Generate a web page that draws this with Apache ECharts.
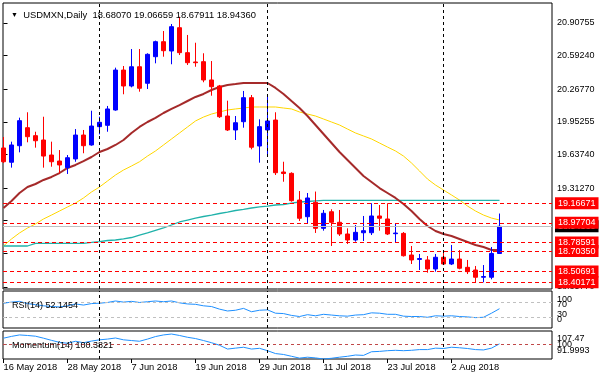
<!DOCTYPE html>
<html><head><meta charset="utf-8">
<script src="https://cdn.jsdelivr.net/npm/echarts@6/dist/echarts.min.js"></script>
<style>html,body{margin:0;padding:0;background:#fff}#c{width:600px;height:380px}</style>
</head><body><div id="c"></div>
<script>
const dates = [
 '2018-05-16','2018-05-17','2018-05-18','2018-05-21','2018-05-22','2018-05-23','2018-05-24','2018-05-25','2018-05-28','2018-05-29','2018-05-30','2018-05-31',
 '2018-06-01','2018-06-04','2018-06-05','2018-06-06','2018-06-07','2018-06-08','2018-06-11','2018-06-12','2018-06-13','2018-06-14','2018-06-15','2018-06-18','2018-06-19','2018-06-20','2018-06-21','2018-06-22','2018-06-25','2018-06-26','2018-06-27','2018-06-28','2018-06-29',
 '2018-07-02','2018-07-03','2018-07-04','2018-07-05','2018-07-06','2018-07-09','2018-07-10','2018-07-11','2018-07-12','2018-07-13','2018-07-16','2018-07-17','2018-07-18','2018-07-19','2018-07-20','2018-07-23','2018-07-24','2018-07-25','2018-07-26','2018-07-27','2018-07-30','2018-07-31',
 '2018-08-01','2018-08-02','2018-08-03','2018-08-06','2018-08-07','2018-08-08','2018-08-09','2018-08-10'];
const opens  = [19.700,19.562,19.722,19.896,19.819,19.777,19.632,19.574,19.510,19.594,19.825,19.729,19.906,19.919,20.067,20.453,20.299,20.485,20.325,20.582,20.727,20.637,20.862,20.621,20.531,20.534,20.357,20.299,20.009,19.874,19.954,20.186,19.719,19.874,19.970,19.468,19.455,19.197,19.036,19.175,18.924,19.084,18.982,18.869,18.811,18.881,18.881,19.043,19.014,18.872,18.875,18.666,18.623,18.618,18.531,18.644,18.579,18.627,18.547,18.521,18.451,18.451,18.68070];
const highs  = [19.806,19.761,19.993,20.045,19.857,20.002,19.761,19.680,19.632,19.883,19.874,20.060,20.002,20.106,20.476,20.492,20.656,20.656,20.615,20.737,20.830,20.898,20.968,20.792,20.717,20.615,20.540,20.309,20.157,20.009,20.251,20.212,19.977,20.202,20.045,19.567,19.465,19.284,19.265,19.279,19.101,19.108,19.101,18.924,18.956,19.043,19.166,19.149,19.166,18.966,18.888,18.753,18.676,18.656,18.676,18.708,18.763,18.714,18.618,18.560,18.569,18.743,19.06659];
const lows   = [19.555,19.510,19.658,19.755,19.703,19.510,19.519,19.455,19.449,19.567,19.649,19.722,19.832,19.857,20.060,20.219,20.286,20.244,20.270,20.518,20.582,20.509,20.598,20.502,20.485,20.335,20.205,19.990,19.864,19.777,19.896,19.687,19.558,19.632,19.439,19.374,19.181,18.995,18.972,18.879,18.901,18.753,18.850,18.772,18.795,18.801,18.859,18.901,18.859,18.789,18.651,18.579,18.521,18.495,18.505,18.569,18.569,18.528,18.482,18.402,18.402,18.431,18.67911];
const closes = [19.567,19.729,19.964,19.809,19.770,19.622,19.567,19.536,19.606,19.825,19.722,19.912,19.948,20.077,20.453,20.299,20.485,20.277,20.605,20.727,20.640,20.872,20.621,20.524,20.524,20.357,20.292,20.002,19.874,19.944,20.186,19.707,19.906,19.961,19.461,19.453,19.191,19.021,19.217,18.924,19.069,18.982,18.869,18.811,18.885,18.901,19.043,19.021,18.869,18.878,18.659,18.618,18.632,18.531,18.644,18.579,18.627,18.538,18.505,18.451,18.458,18.681,18.94360];
const maFast = [19.120,19.188,19.265,19.323,19.352,19.391,19.420,19.458,19.507,19.536,19.574,19.613,19.661,19.690,19.729,19.777,19.845,19.903,19.951,19.990,20.038,20.077,20.115,20.154,20.193,20.222,20.260,20.289,20.309,20.318,20.328,20.328,20.328,20.328,20.280,20.222,20.154,20.087,20.009,19.922,19.835,19.748,19.661,19.584,19.507,19.429,19.371,19.313,19.265,19.217,19.159,19.091,19.014,18.946,18.898,18.869,18.850,18.821,18.792,18.763,18.743,18.714,18.714];
const maMid = [18.753,18.821,18.879,18.927,18.966,19.014,19.052,19.091,19.130,19.168,19.217,19.275,19.323,19.381,19.439,19.487,19.526,19.567,19.622,19.671,19.729,19.787,19.845,19.903,19.961,19.999,20.028,20.048,20.067,20.077,20.086,20.096,20.096,20.096,20.096,20.086,20.077,20.048,20.028,20.009,19.980,19.951,19.922,19.883,19.845,19.816,19.787,19.748,19.709,19.671,19.622,19.555,19.478,19.400,19.342,19.294,19.246,19.197,19.139,19.091,19.052,19.023,19.004];
const maSlow = [18.753,18.753,18.753,18.753,18.779,18.779,18.779,18.779,18.779,18.779,18.779,18.787,18.796,18.806,18.811,18.821,18.835,18.859,18.879,18.903,18.927,18.956,18.985,19.004,19.023,19.038,19.052,19.067,19.081,19.096,19.106,19.120,19.130,19.139,19.149,19.154,19.168,19.178,19.183,19.188,19.193,19.193,19.193,19.193,19.193,19.193,19.193,19.193,19.193,19.193,19.193,19.193,19.193,19.193,19.193,19.193,19.193,19.193,19.193,19.193,19.193,19.193,19.193];
const rsi = [67,70,72,66,63,60,58,57,60,65,62,66,67,69,73,70,72,69,71,73,71,73,68,65,64,60,58,51,46,48,53,44,48,49,40,39,34,31,36,33,37,35,33,32,35,36,41,40,37,37,32,31,31,29,33,32,33,31,30,28,29,40,52.1454];
const momentum = [103.5,104.5,105.3,105.0,104.6,103.5,102.3,101.2,100.7,101.8,101.0,101.9,102.6,103.0,103.6,102.6,102.2,101.8,103.0,104.4,105.3,105.8,105.0,104.0,103.3,102.2,101.0,99.6,97.5,98.0,98.5,97.5,97.9,96.6,95.0,94.5,93.5,92.5,93.0,92.6,91.9993,92.4,93.0,93.5,94.2,94.0,96.0,96.2,96.6,96.8,96.6,96.8,97.2,97.2,98.0,97.8,98.5,98.2,97.8,97.2,97.0,98.0,100.3821];
const hLevels = [19.16671,18.97704,18.78591,18.70350,18.50691,18.40171];
const lastPrice = 18.94360;
const priceTicks = [20.90755,20.59240,20.26770,19.95255,19.63740,19.31270,18.99755,18.68240,18.35770];
const rsiMin = 0, rsiMax = 100;
const rsiLevels = [70,30];
const momMin = 91.9993, momMax = 107.47;
const momLevel = 100;
const dateTickIdx = [0,8,16,24,32,40,48,56];
const monthNames = ['Jan','Feb','Mar','Apr','May','Jun','Jul','Aug','Sep','Oct','Nov','Dec'];

const FONT = "'Liberation Sans',Arial,sans-serif";
const FS = 9;
const XMIN = -0.0625, XMAX = 68.5625;
const sepIdx = [];
for (let i = 1; i < dates.length; i++) if (dates[i].slice(5,7) !== dates[i-1].slice(5,7)) sepIdx.push(i);
function fmtDate(i){const p=dates[i].split('-');return (+p[2])+' '+monthNames[+p[1]-1]+' '+p[0];}
const sepLines = sepIdx.map(i=>({xAxis:i,lineStyle:{color:'#000',type:[3,3],width:1},label:{show:false}}));
const pts = arr => arr.map((v,i)=>[i,v]);
const last = dates.length-1;

const chart = echarts.init(document.getElementById('c'), null, {renderer:'canvas'});
const gridBase = {left:3,width:549,show:true,borderColor:'#000',borderWidth:1,backgroundColor:'#fff'};
const xBase = {type:'value',min:XMIN,max:XMAX,axisLine:{show:false},axisTick:{show:false},axisLabel:{show:false},splitLine:{show:false}};
const richL = {l:{fontFamily:FONT,fontSize:FS,color:'#000',lineHeight:5}};
const richM = {l:{fontFamily:FONT,fontSize:FS,color:'#000',lineHeight:6.4}};
chart.setOption({
 animation:false,
 backgroundColor:'#fff',
 textStyle:{fontFamily:FONT},
 title:[
  {text:'{t|▼}  USDMXN,Daily  '+[opens[last],highs[last],lows[last],closes[last]].map(v=>v.toFixed(5)).join(' '),left:6,top:6,
   textStyle:{fontFamily:FONT,fontSize:9.4,fontWeight:'normal',color:'#000',rich:{t:{fontSize:7,color:'#000'}}}},
  {text:'RSI(14) '+rsi[last].toFixed(4),left:7,top:296,textStyle:{fontFamily:FONT,fontSize:FS,fontWeight:'normal',color:'#000'}},
  {text:'Momentum(14) '+momentum[last].toFixed(4),left:7,top:336,textStyle:{fontFamily:FONT,fontSize:FS,fontWeight:'normal',color:'#000'}}
 ],
 grid:[Object.assign({top:3,height:286},gridBase),Object.assign({top:291,height:37},gridBase),Object.assign({top:331,height:28},gridBase)],
 xAxis:[
  Object.assign({gridIndex:0},xBase),
  Object.assign({gridIndex:1},xBase),
  Object.assign({},xBase,{gridIndex:2,
    axisTick:{show:true,customValues:dateTickIdx,length:4,inside:false,lineStyle:{color:'#000'}},
    axisLabel:{show:true,customValues:dateTickIdx,formatter:v=>fmtDate(Math.round(v)),align:'left',margin:4,color:'#000',fontFamily:FONT,fontSize:9.3}})
 ],
 yAxis:[
  {gridIndex:0,type:'value',position:'right',min:18.3375,max:21.1008,scale:true,splitLine:{show:false},axisLine:{show:false},
   axisTick:{show:true,customValues:priceTicks,length:4,lineStyle:{color:'#000'}},
   axisLabel:{customValues:priceTicks,formatter:v=>v.toFixed(5),color:'#000',fontFamily:FONT,fontSize:FS,margin:5}},
  {gridIndex:1,type:'value',position:'right',min:rsiMin,max:rsiMax,splitLine:{show:false},axisLine:{show:false},
   axisTick:{show:true,customValues:rsiLevels,length:3,lineStyle:{color:'#000'}},
   axisLabel:{customValues:rsiLevels,margin:5,rich:richL,
     formatter:v=>v===rsiLevels[0]?'{l|'+rsiMax+'}\n{l|'+v+'}':'{l|'+v+'}\n{l|'+rsiMin+'}',
     padding:[0,0,0,0]}},
  {gridIndex:2,type:'value',position:'right',min:momMin,max:momMax,splitLine:{show:false},axisLine:{show:false},
   axisTick:{show:true,customValues:[momLevel],length:3,lineStyle:{color:'#000'}},
   axisLabel:{customValues:[momLevel],margin:5,rich:richM,
     formatter:v=>'{l|'+momMax+'}\n{l|'+v+'}\n{l|'+momMin+'}'}}
 ],
 series:[
  {type:'line',xAxisIndex:0,yAxisIndex:0,data:pts(maMid),showSymbol:false,silent:true,z:1,lineStyle:{color:'#FFD700',width:1},
   markLine:{silent:true,symbol:['none','none'],precision:5,data:[{yAxis:lastPrice}],
     lineStyle:{color:'#C0C0C0',type:'solid',width:1},
     label:{show:true,position:'end',distance:3,formatter:p=>(+p.value).toFixed(5),color:'#fff',backgroundColor:'#000',padding:[2,3,1,3],fontFamily:FONT,fontSize:FS}}},
  {type:'line',xAxisIndex:0,yAxisIndex:0,data:pts(maSlow),showSymbol:false,silent:true,z:2,lineStyle:{color:'#20B2AA',width:1.3},
   markLine:{silent:true,symbol:['none','none'],precision:5,data:hLevels.map(v=>({yAxis:v})),
     lineStyle:{color:'#FF0000',type:[4,3],width:1},
     label:{show:true,position:'end',distance:3,formatter:p=>(+p.value).toFixed(5),color:'#fff',backgroundColor:'#FF0000',padding:[2,3,1,3],fontFamily:FONT,fontSize:FS}}},
  {type:'line',xAxisIndex:0,yAxisIndex:0,data:pts(maFast),showSymbol:false,silent:true,z:2,lineStyle:{color:'#A52A2A',width:2},
   markLine:{silent:true,symbol:['none','none'],data:sepLines}},
  {type:'candlestick',xAxisIndex:0,yAxisIndex:0,z:4,barWidth:5,
   data:dates.map((d,i)=>[i,opens[i],closes[i],lows[i],highs[i]]),
   itemStyle:{color:'#0000FF',color0:'#FF0000',borderColor:'#0000FF',borderColor0:'#FF0000',borderWidth:1}},
  {type:'line',xAxisIndex:1,yAxisIndex:1,data:pts(rsi),showSymbol:false,silent:true,lineStyle:{color:'#1E90FF',width:1},
   markLine:{silent:true,symbol:['none','none'],
     data:rsiLevels.map(v=>({yAxis:v,lineStyle:{color:'#C0C0C0',type:[3,3],width:1},label:{show:false}})).concat(sepLines)}},
  {type:'line',xAxisIndex:2,yAxisIndex:2,data:pts(momentum),showSymbol:false,silent:true,lineStyle:{color:'#1E90FF',width:1},
   markLine:{silent:true,symbol:['none','none'],
     data:[{yAxis:momLevel,lineStyle:{color:'#C04848',type:[3,3],width:1},label:{show:false}}].concat(sepLines)}}
 ]
});
</script></body></html>
